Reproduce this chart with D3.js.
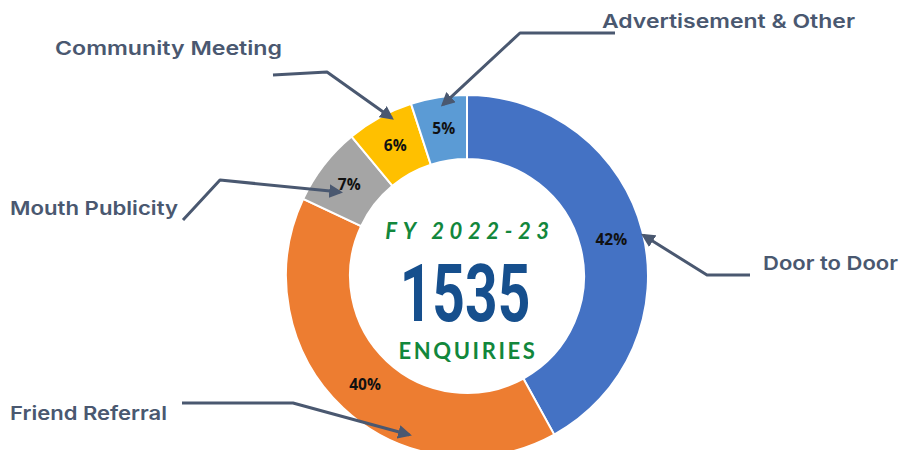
<!DOCTYPE html>
<html lang="en">
<head>
  <meta charset="UTF-8">
  <script src="https://d3js.org/d3.v7.min.js"></script>
  <style>
    body { margin: 0; background: #fff; }
  </style>
  <script>
    // data
    var sources = ['Door to Door', 'Friend Referral', 'Mouth Publicity', 'Community Meeting', 'Advertisement & Other'];
    var shares = [42, 40, 7, 6, 5];
    var colors = ['#4472c4', '#ed7d31', '#a5a5a5', '#ffc000', '#5b9bd5'];
    var fyLabel = 'FY 2022-23';
    var totalEnquiries = 1535;
    var totalLabel = 'ENQUIRIES';

    // callout layout: label anchor + width, polyline points, arrow tip (angle deg, radius px)
    var callouts = [
      { lx: 763, ly: 270, w: 135, pts: [[750, 275], [707, 275]], tip: [77, 181] },
      { lx: 10, ly: 420, w: 157, pts: [[182, 403], [293, 403]], tip: [200, 169] },
      { lx: 10, ly: 215, w: 168, pts: [[183, 220], [220, 180]], tip: [303.5, 152] },
      { lx: 55, ly: 55, w: 227, pts: [[273, 75], [327, 72]], tip: [334.5, 175] },
      { lx: 602, ly: 28, w: 253, pts: [[615, 33], [520, 33]], tip: [352, 173] }
    ];

    function draw() {
      var W = 899, H = 450, cx = 467, cy = 276, rOut = 181, rIn = 117;
      var svg = d3.select('#chart').attr('width', W).attr('height', H);
      var ink = '#4a5870';

      svg.append('defs').append('marker')
        .attr('id', 'arr').attr('viewBox', '0 0 10 10')
        .attr('refX', 8).attr('refY', 5)
        .attr('markerWidth', 4.6).attr('markerHeight', 4.6)
        .attr('orient', 'auto')
        .append('path').attr('d', 'M0,0 L10,5 L0,10 z').attr('fill', ink);

      var pie = d3.pie().sort(null).value(d => d);
      var arcs = pie(shares);
      var arc = d3.arc().innerRadius(rIn).outerRadius(rOut);
      var mid = d3.arc().innerRadius(149).outerRadius(149);

      var g = svg.append('g').attr('transform', 'translate(' + cx + ',' + cy + ')');
      g.selectAll('path.slice').data(arcs).enter().append('path')
        .attr('class', 'slice')
        .attr('d', arc)
        .attr('fill', (d, i) => colors[i])
        .attr('stroke', '#fff').attr('stroke-width', 2);

      g.selectAll('text.pct').data(arcs).enter().append('text')
        .attr('class', 'pct')
        .attr('transform', d => 'translate(' + mid.centroid(d) + ')')
        .attr('text-anchor', 'middle').attr('dy', '0.36em')
        .style('font-family', '"Open Sans", sans-serif')
        .style('font-weight', 700).style('font-size', '15.5px')
        .attr('fill', '#111')
        .text(d => d.data + '%');

      // center text
      svg.append('text')
        .attr('x', cx + 3).attr('y', 239)
        .attr('text-anchor', 'middle')
        .style('font-family', 'Lato, sans-serif').style('font-weight', 700)
        .style('font-style', 'italic').style('font-size', '22px')
        .style('letter-spacing', '5.6px')
        .attr('fill', '#12873c')
        .text(fyLabel);

      svg.append('text')
        .attr('transform', 'translate(' + (cx - 2) + ',321) scale(0.72,1)')
        .attr('text-anchor', 'middle')
        .style('font-family', 'Roboto, sans-serif').style('font-weight', 700)
        .style('font-size', '79px')
        .attr('fill', '#164f8d')
        .text(totalEnquiries);

      svg.append('text')
        .attr('x', cx + 1).attr('y', 359)
        .attr('text-anchor', 'middle')
        .style('font-family', 'Lato, sans-serif').style('font-weight', 700)
        .style('font-size', '22px').style('letter-spacing', '2.6px')
        .attr('fill', '#12873c')
        .text(totalLabel);

      // callouts
      var line = d3.line();
      callouts.forEach(function (c, i) {
        var a = c.tip[0] * Math.PI / 180;
        var tip = [cx + c.tip[1] * Math.sin(a), cy - c.tip[1] * Math.cos(a)];
        svg.append('path')
          .attr('d', line(c.pts.concat([tip])))
          .attr('fill', 'none').attr('stroke', ink)
          .attr('stroke-width', 3).attr('stroke-linejoin', 'round')
          .attr('marker-end', 'url(#arr)');
        svg.append('text')
          .attr('x', c.lx).attr('y', c.ly)
          .attr('textLength', c.w).attr('lengthAdjust', 'spacingAndGlyphs')
          .style('font-family', 'Inter, sans-serif').style('font-weight', 600)
          .style('font-size', '19px')
          .attr('fill', ink)
          .text(sources[i]);
      });
    }
  </script>
  <title>Enquiries FY 2022-23</title>
</head>
<body onload="draw()">
  <svg id="chart"></svg>
</body>
</html>
